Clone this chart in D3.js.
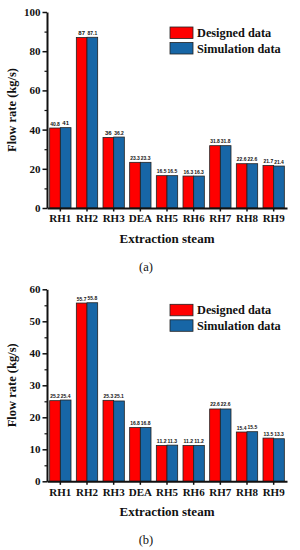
<!DOCTYPE html>
<html>
<head>
<meta charset="utf-8">
<script src="https://cdn.jsdelivr.net/npm/d3@7"></script>
<style>
  body { margin: 0; background: #fff; }
  svg text { font-family: "Liberation Serif", "Times New Roman", serif; }
  .vlab { font-family: "Liberation Sans", Arial, sans-serif; font-weight: bold; font-size: 6px; fill: #111; }
</style>
</head>
<body>
<div id="dataviz"></div>
<script>
// categories and series
var categories = ["RH1", "RH2", "RH3", "DEA", "RH5", "RH6", "RH7", "RH8", "RH9"];
var seriesNames = ["Designed data", "Simulation data"];
var designedA = [40.8, 87, 36, 23.3, 16.5, 16.3, 31.8, 22.6, 21.7];
var simulationA = [41, 87.1, 36.2, 23.3, 16.5, 16.3, 31.8, 22.6, 21.4];
var designedB = [25.2, 55.7, 25.3, 16.8, 11.2, 11.2, 22.6, 15.4, 13.5];
var simulationB = [25.4, 55.8, 25.1, 16.8, 11.3, 11.2, 22.6, 15.5, 13.3];
var ticksA = [0, 20, 40, 60, 80, 100];
var ticksB = [0, 10, 20, 30, 40, 50, 60];

var colors = ["#ff0000", "#1766a6"];

var svg = d3.select("#dataviz").append("svg")
    .attr("width", 300)
    .attr("height", 550)

var x = d3.scaleBand().domain(categories).range([47, 287]).paddingInner(0.2).paddingOuter(0.1)
var xs = d3.scaleBand().domain(seriesNames).range([0, x.bandwidth()])

function panel(designed, simulation, ticks, ymax, top, bottom, letter) {
    var y = d3.scaleLinear().domain([0, ymax]).range([bottom, top])
    var g = svg.append("g")

    // bars
    var rows = categories.map((c, i) => ({ c: c, v: [designed[i], simulation[i]] }))
    var grp = g.selectAll("g.grp").data(rows).enter().append("g")
        .attr("class", "grp")
        .attr("transform", d => "translate(" + x(d.c) + ",0)")
    grp.selectAll("rect").data(d => d.v.map((v, k) => ({ v: v, k: k }))).enter().append("rect")
        .attr("x", d => xs(seriesNames[d.k]))
        .attr("y", d => y(d.v))
        .attr("width", xs.bandwidth())
        .attr("height", d => bottom - y(d.v))
        .attr("fill", d => colors[d.k])
        .attr("stroke", "#222")
        .attr("stroke-width", 0.8)
    grp.selectAll("text").data(d => d.v.map((v, k) => ({ v: v, k: k }))).enter().append("text")
        .attr("class", "vlab")
        .attr("x", d => xs(seriesNames[d.k]) + xs.bandwidth() / 2)
        .attr("y", d => y(d.v) - 2.5)
        .attr("text-anchor", "middle")
        .text(d => d.v)
        .each(function() {
            // squeeze labels so neighbours don't collide
            var maxW = xs.bandwidth() - 1
            if (this.getComputedTextLength() > maxW) {
                d3.select(this).attr("textLength", maxW).attr("lengthAdjust", "spacingAndGlyphs")
            }
        })

    // y axis with minor ticks
    var minor = []
    for (var i = 0; i < ticks.length - 1; i++) minor.push((ticks[i] + ticks[i + 1]) / 2)
    g.append("g")
        .attr("transform", "translate(47,0)")
        .call(d3.axisLeft(y).tickValues(minor).tickSize(2.5).tickFormat(""))
        .call(a => a.select(".domain").remove())
        .selectAll("line").attr("stroke", "#111").attr("stroke-width", 1.2)
    var ya = g.append("g")
        .attr("transform", "translate(47,0)")
        .call(d3.axisLeft(y).tickValues(ticks).tickSize(4.5).tickSizeOuter(0).tickPadding(2))
    ya.select(".domain").attr("stroke", "#111").attr("stroke-width", 2)
    ya.selectAll(".tick line").attr("stroke", "#111").attr("stroke-width", 1.5)
    ya.selectAll("text").attr("font-size", "11px").attr("font-weight", "bold")
        .attr("font-family", "Liberation Serif").attr("fill", "#111")

    // x axis
    var xa = g.append("g")
        .attr("transform", "translate(0," + bottom + ")")
        .call(d3.axisBottom(x).tickSize(3.5).tickSizeOuter(0).tickPadding(3))
    xa.select(".domain").attr("stroke", "#111").attr("stroke-width", 2)
    xa.selectAll(".tick line").attr("stroke", "#111").attr("stroke-width", 1.5)
    xa.selectAll("text").attr("font-size", "11px").attr("font-weight", "bold")
        .attr("font-family", "Liberation Serif").attr("fill", "#111")

    // titles
    g.append("text")
        .attr("transform", "translate(16," + ((top + bottom) / 2) + ") rotate(-90)")
        .attr("text-anchor", "middle")
        .attr("font-size", "12.5px").attr("font-weight", "bold").attr("fill", "#111")
        .text("Flow rate (kg/s)")
    g.append("text")
        .attr("x", 167).attr("y", bottom + 35)
        .attr("text-anchor", "middle")
        .attr("font-size", "13px").attr("font-weight", "bold").attr("fill", "#111")
        .text("Extraction steam")
    g.append("text")
        .attr("x", 146).attr("y", bottom + 63)
        .attr("text-anchor", "middle")
        .attr("font-size", "12.5px").attr("fill", "#111")
        .text("(" + letter + ")")

    // legend
    var lg = g.append("g").attr("transform", "translate(170," + (top + 15) + ")")
    seriesNames.forEach((n, k) => {
        lg.append("rect")
            .attr("x", 0).attr("y", k * 15.5)
            .attr("width", 23).attr("height", 11.5)
            .attr("fill", colors[k]).attr("stroke", "#222").attr("stroke-width", 0.8)
        lg.append("text")
            .attr("x", 27).attr("y", k * 15.5 + 10)
            .attr("font-size", "12.3px").attr("font-weight", "bold").attr("fill", "#111")
            .text(n)
    })
}

panel(designedA, simulationA, ticksA, 100, 12, 208, "a")
panel(designedB, simulationB, ticksB, 60, 289.3, 481.3, "b")
</script>
</body>
</html>
